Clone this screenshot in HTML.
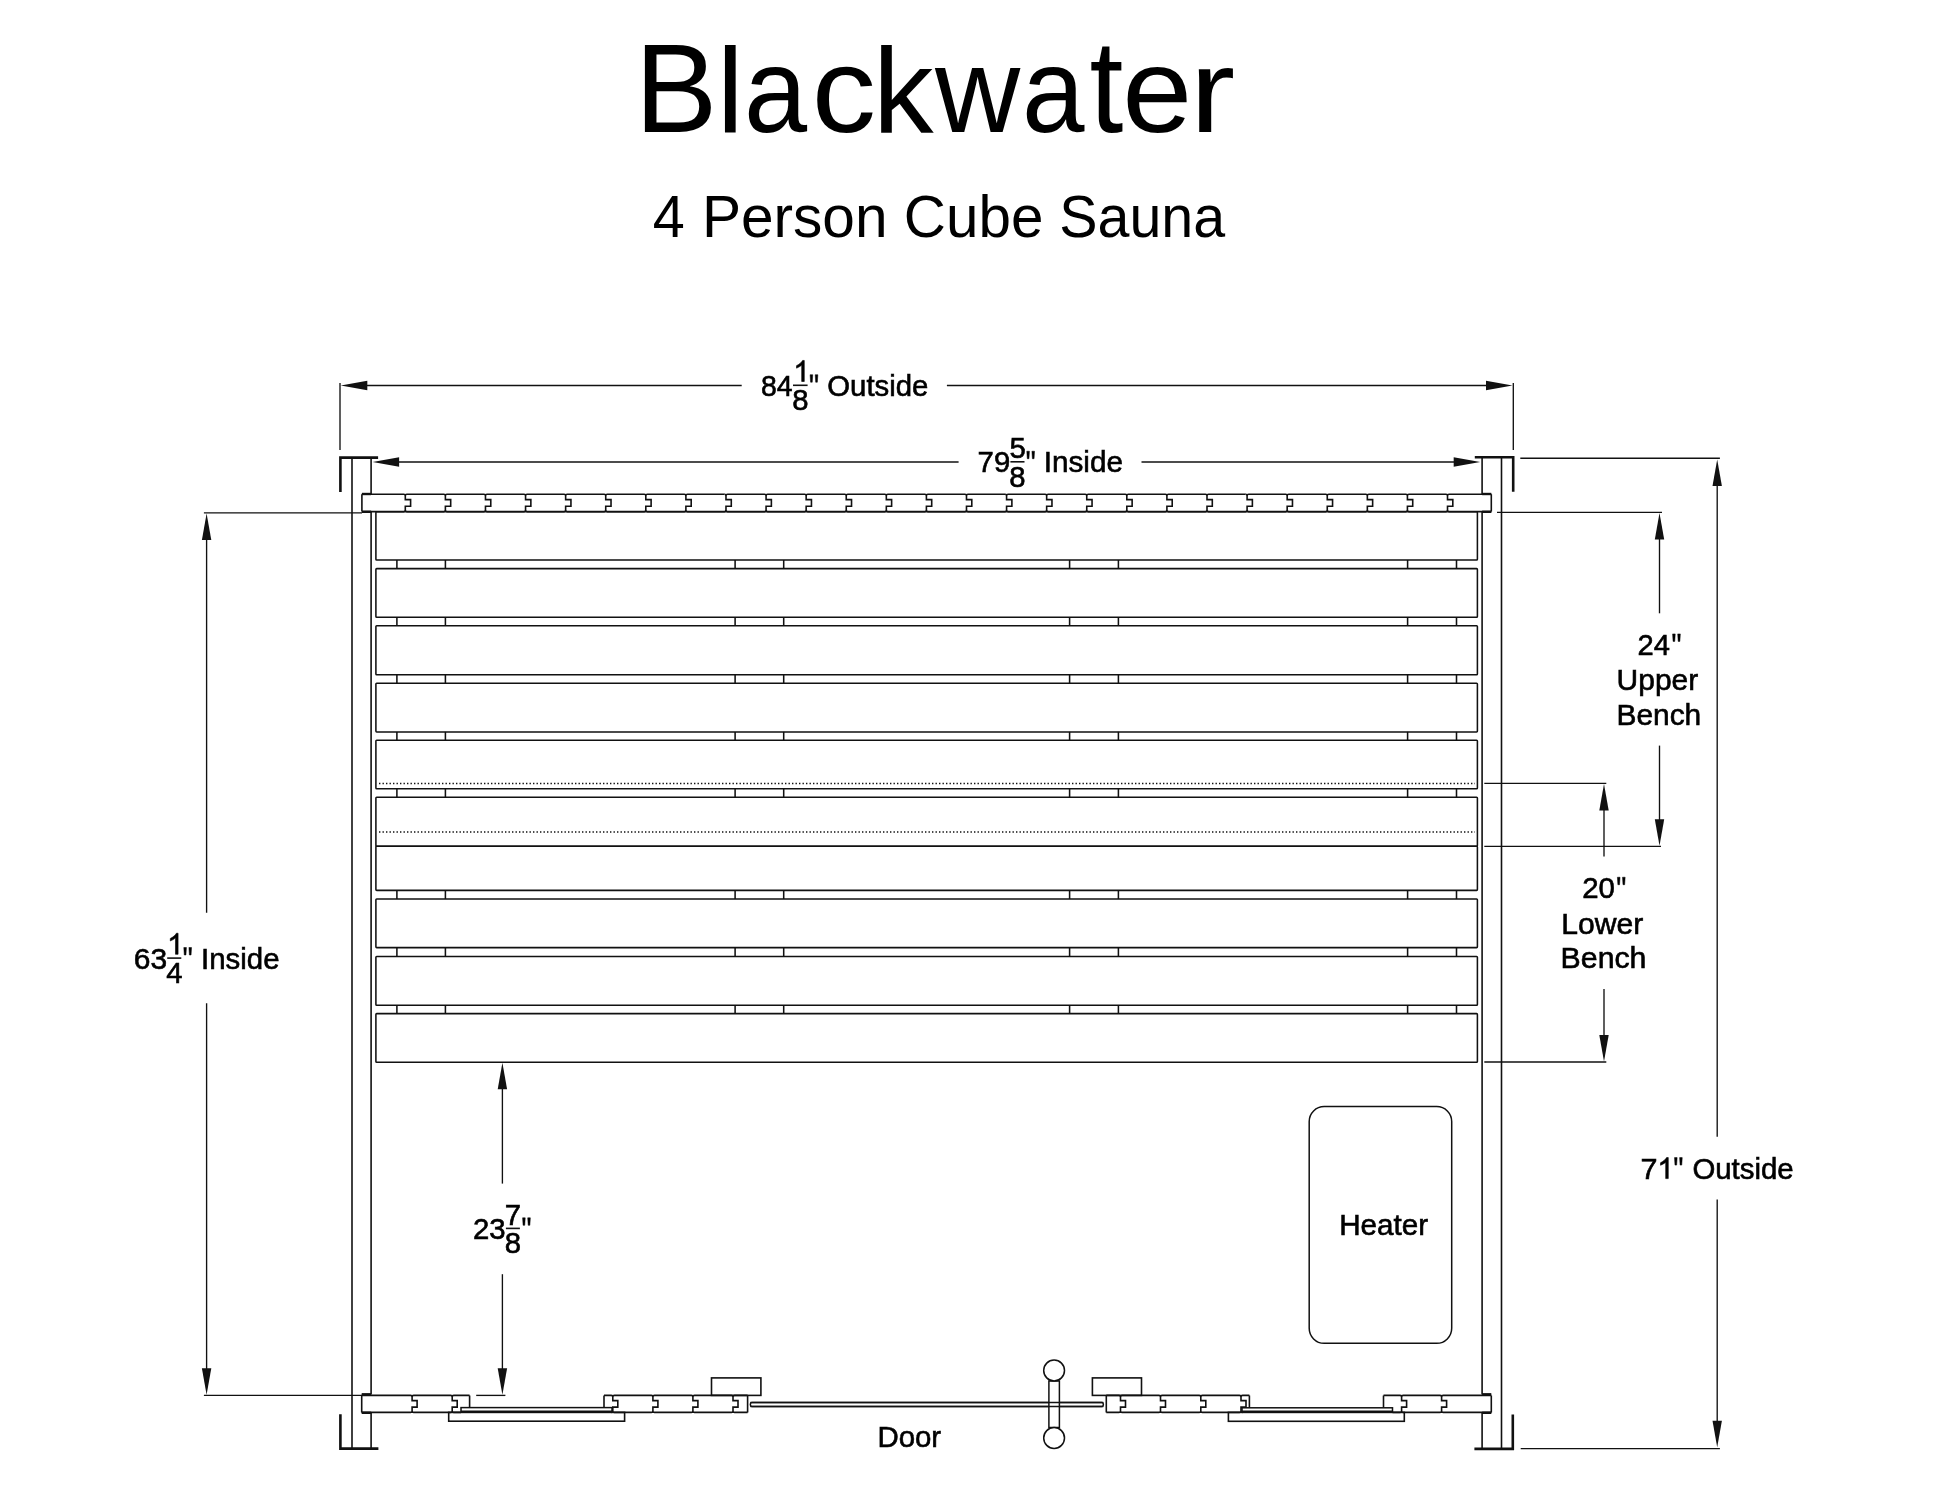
<!DOCTYPE html>
<html><head><meta charset="utf-8"><title>Blackwater 4 Person Cube Sauna</title>
<style>
html,body{margin:0;padding:0;background:#fff;}
body{width:1946px;height:1504px;overflow:hidden;font-family:"Liberation Sans",sans-serif;}
svg{display:block;will-change:transform;}
</style></head><body>
<svg width="1946" height="1504" viewBox="0 0 1946 1504">
<rect x="0" y="0" width="1946" height="1504" fill="#fff"/>
<g fill="#000" font-family="Liberation Sans" stroke="none">
<text transform="translate(634.69 131.80) scale(0.9811 1.0007)" font-size="126.30">B</text>
<text transform="translate(716.80 131.80) scale(0.9639 0.9501)" font-size="126.30">l</text>
<text transform="translate(743.98 131.80) scale(0.8986 0.9520)" font-size="126.30">a</text>
<text transform="translate(811.84 131.80) scale(1.0174 0.9579)" font-size="126.30">c</text>
<text transform="translate(873.03 131.80) scale(0.9594 0.9517)" font-size="126.30">k</text>
<text transform="translate(935.07 131.80) scale(0.9345 0.9501)" font-size="126.30">w</text>
<text transform="translate(1022.03 131.80) scale(0.8894 0.9520)" font-size="126.30">a</text>
<text transform="translate(1089.46 131.80) scale(0.9642 1.0386)" font-size="126.30">t</text>
<text transform="translate(1122.26 131.80) scale(0.9955 0.9520)" font-size="126.30">e</text>
<text transform="translate(1189.74 131.80) scale(1.0800 0.9329)" font-size="126.30">r</text>
<text transform="translate(652.68 236.50) scale(0.9481 0.9800)" font-size="60.70">4</text>
<text transform="translate(701.89 236.50) scale(0.9651 0.9750)" font-size="60.70">Person</text>
<text transform="translate(903.83 236.50) scale(0.9625 0.9750)" font-size="60.70">Cube</text>
<text transform="translate(1059.29 236.50) scale(0.9452 0.9750)" font-size="60.70">Sauna</text>
<g stroke="#000" stroke-width="0.6">
<text transform="translate(760.96 395.70) scale(0.9718 1.0000)" font-size="29.30">84</text>
<path transform="translate(793.32 381.50) scale(0.01436 -0.01436)" d="M763 0L583 0L583 1147C540 1106 483 1064 413 1023C343 982 280 951 223 930L223 1104C324 1151 412 1208 487 1276C562 1344 615 1407 646 1466L763 1466Z" stroke-width="41.8"/>
<text x="792.25" y="410.30" font-size="29.30">8</text>
<line x1="793.00" y1="385.30" x2="807.60" y2="385.30" stroke="#111" stroke-width="1.6"/>
<path transform="translate(808.77 395.70) scale(0.01431 -0.01431)" d="M93 1466L277 1466L243 943L127 943ZM450 1466L634 1466L600 943L484 943Z" stroke-width="34.9"/>
<text transform="translate(827.31 395.70) scale(1.0012 1.0000)" font-size="29.30">Outside</text>
<text transform="translate(977.60 472.20) scale(1.0000 1.0000)" font-size="29.30">79</text>
<text x="1009.38" y="458.00" font-size="29.30">5</text>
<text x="1009.35" y="486.80" font-size="29.30">8</text>
<line x1="1010.40" y1="461.80" x2="1024.50" y2="461.80" stroke="#111" stroke-width="1.6"/>
<path transform="translate(1025.47 472.20) scale(0.01431 -0.01431)" d="M93 1466L277 1466L243 943L127 943ZM450 1466L634 1466L600 943L484 943Z" stroke-width="34.9"/>
<text transform="translate(1043.66 472.20) scale(1.0138 1.0000)" font-size="29.30">Inside</text>
<text transform="translate(133.78 968.50) scale(1.0230 1.0000)" font-size="29.30">63</text>
<path transform="translate(167.12 954.30) scale(0.01436 -0.01436)" d="M763 0L583 0L583 1147C540 1106 483 1064 413 1023C343 982 280 951 223 930L223 1104C324 1151 412 1208 487 1276C562 1344 615 1407 646 1466L763 1466Z" stroke-width="41.8"/>
<text x="166.15" y="983.10" font-size="29.30">4</text>
<line x1="167.20" y1="958.10" x2="181.30" y2="958.10" stroke="#111" stroke-width="1.6"/>
<path transform="translate(182.47 968.50) scale(0.01431 -0.01431)" d="M93 1466L277 1466L243 943L127 943ZM450 1466L634 1466L600 943L484 943Z" stroke-width="34.9"/>
<text transform="translate(200.98 968.50) scale(1.0043 1.0000)" font-size="29.30">Inside</text>
<text transform="translate(472.92 1238.80) scale(1.0024 1.0000)" font-size="29.30">23</text>
<text x="504.74" y="1224.60" font-size="29.30">7</text>
<text x="504.75" y="1253.40" font-size="29.30">8</text>
<line x1="505.90" y1="1228.40" x2="519.90" y2="1228.40" stroke="#111" stroke-width="1.6"/>
<path transform="translate(521.27 1238.80) scale(0.01431 -0.01431)" d="M93 1466L277 1466L243 943L127 943ZM450 1466L634 1466L600 943L484 943Z" stroke-width="34.9"/>
<text transform="translate(1637.43 654.90) scale(0.9948 1.0000)" font-size="29.30">24</text>
<path transform="translate(1671.27 654.90) scale(0.01431 -0.01431)" d="M93 1466L277 1466L243 943L127 943ZM450 1466L634 1466L600 943L484 943Z" stroke-width="34.9"/>
<text transform="translate(1616.59 689.80) scale(1.0226 1.0000)" font-size="29.30">Upper</text>
<text transform="translate(1616.45 724.70) scale(1.0207 1.0000)" font-size="29.30">Bench</text>
<text transform="translate(1582.22 898.20) scale(1.0043 1.0000)" font-size="29.30">20</text>
<path transform="translate(1616.07 898.20) scale(0.01431 -0.01431)" d="M93 1466L277 1466L243 943L127 943ZM450 1466L634 1466L600 943L484 943Z" stroke-width="34.9"/>
<text transform="translate(1561.23 934.00) scale(1.0284 1.0000)" font-size="29.30">Lower</text>
<text transform="translate(1560.62 968.40) scale(1.0334 1.0000)" font-size="29.30">Bench</text>
<text transform="translate(1640.43 1178.60) scale(1.0436 1.0000)" font-size="29.30">7</text>
<path transform="translate(1657.32 1178.60) scale(0.01436 -0.01436)" d="M763 0L583 0L583 1147C540 1106 483 1064 413 1023C343 982 280 951 223 930L223 1104C324 1151 412 1208 487 1276C562 1344 615 1407 646 1466L763 1466Z" stroke-width="41.8"/>
<path transform="translate(1673.17 1178.60) scale(0.01431 -0.01431)" d="M93 1466L277 1466L243 943L127 943ZM450 1466L634 1466L600 943L484 943Z" stroke-width="34.9"/>
<text transform="translate(1692.41 1178.60) scale(1.0032 1.0000)" font-size="29.30">Outside</text>
<text transform="translate(1339.17 1235.10) scale(1.0111 1.0000)" font-size="29.30">Heater</text>
<text transform="translate(877.49 1447.10) scale(1.0030 1.0000)" font-size="29.30">Door</text>
</g>
</g>
<g stroke="#111" fill="none" stroke-linecap="butt">
<line x1="340.00" y1="383.00" x2="340.00" y2="450.00" stroke-width="1.35"/>
<line x1="1513.30" y1="383.00" x2="1513.30" y2="450.00" stroke-width="1.35"/>
<line x1="360.00" y1="385.50" x2="741.70" y2="385.50" stroke-width="1.35"/>
<line x1="946.90" y1="385.50" x2="1495.00" y2="385.50" stroke-width="1.35"/>
<polygon points="340.80,385.50 367.30,380.80 367.30,390.20" fill="#111" stroke="none"/>
<polygon points="1512.50,385.50 1486.00,380.80 1486.00,390.20" fill="#111" stroke="none"/>
<line x1="390.00" y1="462.00" x2="958.60" y2="462.00" stroke-width="1.35"/>
<line x1="1141.50" y1="462.00" x2="1465.00" y2="462.00" stroke-width="1.35"/>
<polygon points="372.60,462.00 399.10,457.30 399.10,466.70" fill="#111" stroke="none"/>
<polygon points="1480.20,462.00 1453.70,457.30 1453.70,466.70" fill="#111" stroke="none"/>
<line x1="203.90" y1="512.80" x2="362.00" y2="512.80" stroke-width="1.35"/>
<line x1="203.90" y1="1395.40" x2="362.00" y2="1395.40" stroke-width="1.35"/>
<line x1="206.60" y1="530.00" x2="206.60" y2="912.70" stroke-width="1.35"/>
<line x1="206.60" y1="1003.30" x2="206.60" y2="1380.00" stroke-width="1.35"/>
<polygon points="206.60,513.50 201.90,540.00 211.30,540.00" fill="#111" stroke="none"/>
<polygon points="206.60,1394.70 201.90,1368.20 211.30,1368.20" fill="#111" stroke="none"/>
<line x1="476.20" y1="1395.40" x2="505.40" y2="1395.40" stroke-width="1.35"/>
<line x1="502.40" y1="1080.00" x2="502.40" y2="1183.60" stroke-width="1.35"/>
<line x1="502.40" y1="1274.20" x2="502.40" y2="1380.00" stroke-width="1.35"/>
<polygon points="502.40,1062.80 497.70,1089.30 507.10,1089.30" fill="#111" stroke="none"/>
<polygon points="502.40,1394.80 497.70,1368.30 507.10,1368.30" fill="#111" stroke="none"/>
<line x1="1497.00" y1="512.30" x2="1662.00" y2="512.30" stroke-width="1.35"/>
<line x1="1484.30" y1="846.30" x2="1661.00" y2="846.30" stroke-width="1.35"/>
<line x1="1659.50" y1="530.00" x2="1659.50" y2="613.30" stroke-width="1.35"/>
<line x1="1659.50" y1="745.60" x2="1659.50" y2="830.00" stroke-width="1.35"/>
<polygon points="1659.50,513.00 1654.80,539.50 1664.20,539.50" fill="#111" stroke="none"/>
<polygon points="1659.50,845.80 1654.80,819.30 1664.20,819.30" fill="#111" stroke="none"/>
<line x1="1484.30" y1="783.40" x2="1606.30" y2="783.40" stroke-width="1.35"/>
<line x1="1484.30" y1="1062.00" x2="1606.30" y2="1062.00" stroke-width="1.35"/>
<line x1="1604.00" y1="800.00" x2="1604.00" y2="856.60" stroke-width="1.35"/>
<line x1="1604.00" y1="989.00" x2="1604.00" y2="1045.00" stroke-width="1.35"/>
<polygon points="1604.00,784.00 1599.30,810.50 1608.70,810.50" fill="#111" stroke="none"/>
<polygon points="1604.00,1061.50 1599.30,1035.00 1608.70,1035.00" fill="#111" stroke="none"/>
<line x1="1520.30" y1="458.20" x2="1719.90" y2="458.20" stroke-width="1.35"/>
<line x1="1520.70" y1="1448.60" x2="1719.90" y2="1448.60" stroke-width="1.35"/>
<line x1="1717.20" y1="475.00" x2="1717.20" y2="1136.80" stroke-width="1.35"/>
<line x1="1717.20" y1="1199.60" x2="1717.20" y2="1430.00" stroke-width="1.35"/>
<polygon points="1717.20,459.50 1712.50,486.00 1721.90,486.00" fill="#111" stroke="none"/>
<polygon points="1717.20,1447.30 1712.50,1420.80 1721.90,1420.80" fill="#111" stroke="none"/>
<path d="M340.4 492.1 L340.4 457.6 L378.1 457.6" stroke-width="2.60"/>
<path d="M1474.8 457.3 L1513.2 457.3 L1513.2 491.8" stroke-width="2.60"/>
<path d="M340.4 1414.3 L340.4 1448.6 L378.4 1448.6" stroke-width="2.60"/>
<path d="M1474.4 1448.9 L1512.8 1448.9 L1512.8 1414.5" stroke-width="2.60"/>
<line x1="352.00" y1="457.60" x2="352.00" y2="1448.60" stroke-width="1.60"/>
<line x1="1501.50" y1="457.30" x2="1501.50" y2="1448.90" stroke-width="1.60"/>
<line x1="371.10" y1="457.60" x2="371.10" y2="494.30" stroke-width="1.60"/>
<line x1="371.10" y1="512.00" x2="371.10" y2="1394.60" stroke-width="1.60"/>
<line x1="371.10" y1="1413.00" x2="371.10" y2="1448.60" stroke-width="1.60"/>
<line x1="1482.10" y1="457.30" x2="1482.10" y2="494.30" stroke-width="1.60"/>
<line x1="1482.10" y1="512.00" x2="1482.10" y2="1394.60" stroke-width="1.60"/>
<line x1="1482.10" y1="1413.00" x2="1482.10" y2="1448.90" stroke-width="1.60"/>
<path d="M361.90 494.30 L403.80 494.30 M406.80 494.30 L443.88 494.30 M446.88 494.30 L483.97 494.30 M486.97 494.30 L524.06 494.30 M527.06 494.30 L564.14 494.30 M567.14 494.30 L604.23 494.30 M607.23 494.30 L644.31 494.30 M647.31 494.30 L684.39 494.30 M687.39 494.30 L724.48 494.30 M727.48 494.30 L764.57 494.30 M767.57 494.30 L804.65 494.30 M807.65 494.30 L844.74 494.30 M847.74 494.30 L884.82 494.30 M887.82 494.30 L924.90 494.30 M927.90 494.30 L964.99 494.30 M967.99 494.30 L1005.08 494.30 M1008.08 494.30 L1045.16 494.30 M1048.16 494.30 L1085.25 494.30 M1088.25 494.30 L1125.33 494.30 M1128.33 494.30 L1165.41 494.30 M1168.41 494.30 L1205.50 494.30 M1208.50 494.30 L1245.59 494.30 M1248.59 494.30 L1285.67 494.30 M1288.67 494.30 L1325.76 494.30 M1328.76 494.30 L1365.84 494.30 M1368.84 494.30 L1405.92 494.30 M1408.92 494.30 L1446.01 494.30 M1449.01 494.30 L1491.30 494.30 M361.90 511.60 L403.80 511.60 M406.80 511.60 L443.88 511.60 M446.88 511.60 L483.97 511.60 M486.97 511.60 L524.06 511.60 M527.06 511.60 L564.14 511.60 M567.14 511.60 L604.23 511.60 M607.23 511.60 L644.31 511.60 M647.31 511.60 L684.39 511.60 M687.39 511.60 L724.48 511.60 M727.48 511.60 L764.57 511.60 M767.57 511.60 L804.65 511.60 M807.65 511.60 L844.74 511.60 M847.74 511.60 L884.82 511.60 M887.82 511.60 L924.90 511.60 M927.90 511.60 L964.99 511.60 M967.99 511.60 L1005.08 511.60 M1008.08 511.60 L1045.16 511.60 M1048.16 511.60 L1085.25 511.60 M1088.25 511.60 L1125.33 511.60 M1128.33 511.60 L1165.41 511.60 M1168.41 511.60 L1205.50 511.60 M1208.50 511.60 L1245.59 511.60 M1248.59 511.60 L1285.67 511.60 M1288.67 511.60 L1325.76 511.60 M1328.76 511.60 L1365.84 511.60 M1368.84 511.60 L1405.92 511.60 M1408.92 511.60 L1446.01 511.60 M1449.01 511.60 L1491.30 511.60 M361.90 494.30 L361.90 511.60 M1491.30 494.30 L1491.30 511.60 M403.80 494.30 Q405.30 494.30 405.30 495.80 Q405.30 494.30 406.80 494.30 M405.30 495.80 L405.30 499.66 L410.60 499.66 L410.60 506.24 L405.30 506.24 L405.30 510.10 M403.80 511.60 Q405.30 511.60 405.30 510.10 Q405.30 511.60 406.80 511.60 M443.88 494.30 Q445.38 494.30 445.38 495.80 Q445.38 494.30 446.88 494.30 M445.38 495.80 L445.38 499.66 L450.69 499.66 L450.69 506.24 L445.38 506.24 L445.38 510.10 M443.88 511.60 Q445.38 511.60 445.38 510.10 Q445.38 511.60 446.88 511.60 M483.97 494.30 Q485.47 494.30 485.47 495.80 Q485.47 494.30 486.97 494.30 M485.47 495.80 L485.47 499.66 L490.77 499.66 L490.77 506.24 L485.47 506.24 L485.47 510.10 M483.97 511.60 Q485.47 511.60 485.47 510.10 Q485.47 511.60 486.97 511.60 M524.06 494.30 Q525.56 494.30 525.56 495.80 Q525.56 494.30 527.06 494.30 M525.56 495.80 L525.56 499.66 L530.86 499.66 L530.86 506.24 L525.56 506.24 L525.56 510.10 M524.06 511.60 Q525.56 511.60 525.56 510.10 Q525.56 511.60 527.06 511.60 M564.14 494.30 Q565.64 494.30 565.64 495.80 Q565.64 494.30 567.14 494.30 M565.64 495.80 L565.64 499.66 L570.94 499.66 L570.94 506.24 L565.64 506.24 L565.64 510.10 M564.14 511.60 Q565.64 511.60 565.64 510.10 Q565.64 511.60 567.14 511.60 M604.23 494.30 Q605.73 494.30 605.73 495.80 Q605.73 494.30 607.23 494.30 M605.73 495.80 L605.73 499.66 L611.02 499.66 L611.02 506.24 L605.73 506.24 L605.73 510.10 M604.23 511.60 Q605.73 511.60 605.73 510.10 Q605.73 511.60 607.23 511.60 M644.31 494.30 Q645.81 494.30 645.81 495.80 Q645.81 494.30 647.31 494.30 M645.81 495.80 L645.81 499.66 L651.11 499.66 L651.11 506.24 L645.81 506.24 L645.81 510.10 M644.31 511.60 Q645.81 511.60 645.81 510.10 Q645.81 511.60 647.31 511.60 M684.39 494.30 Q685.89 494.30 685.89 495.80 Q685.89 494.30 687.39 494.30 M685.89 495.80 L685.89 499.66 L691.19 499.66 L691.19 506.24 L685.89 506.24 L685.89 510.10 M684.39 511.60 Q685.89 511.60 685.89 510.10 Q685.89 511.60 687.39 511.60 M724.48 494.30 Q725.98 494.30 725.98 495.80 Q725.98 494.30 727.48 494.30 M725.98 495.80 L725.98 499.66 L731.28 499.66 L731.28 506.24 L725.98 506.24 L725.98 510.10 M724.48 511.60 Q725.98 511.60 725.98 510.10 Q725.98 511.60 727.48 511.60 M764.57 494.30 Q766.07 494.30 766.07 495.80 Q766.07 494.30 767.57 494.30 M766.07 495.80 L766.07 499.66 L771.37 499.66 L771.37 506.24 L766.07 506.24 L766.07 510.10 M764.57 511.60 Q766.07 511.60 766.07 510.10 Q766.07 511.60 767.57 511.60 M804.65 494.30 Q806.15 494.30 806.15 495.80 Q806.15 494.30 807.65 494.30 M806.15 495.80 L806.15 499.66 L811.45 499.66 L811.45 506.24 L806.15 506.24 L806.15 510.10 M804.65 511.60 Q806.15 511.60 806.15 510.10 Q806.15 511.60 807.65 511.60 M844.74 494.30 Q846.24 494.30 846.24 495.80 Q846.24 494.30 847.74 494.30 M846.24 495.80 L846.24 499.66 L851.53 499.66 L851.53 506.24 L846.24 506.24 L846.24 510.10 M844.74 511.60 Q846.24 511.60 846.24 510.10 Q846.24 511.60 847.74 511.60 M884.82 494.30 Q886.32 494.30 886.32 495.80 Q886.32 494.30 887.82 494.30 M886.32 495.80 L886.32 499.66 L891.62 499.66 L891.62 506.24 L886.32 506.24 L886.32 510.10 M884.82 511.60 Q886.32 511.60 886.32 510.10 Q886.32 511.60 887.82 511.60 M924.90 494.30 Q926.40 494.30 926.40 495.80 Q926.40 494.30 927.90 494.30 M926.40 495.80 L926.40 499.66 L931.70 499.66 L931.70 506.24 L926.40 506.24 L926.40 510.10 M924.90 511.60 Q926.40 511.60 926.40 510.10 Q926.40 511.60 927.90 511.60 M964.99 494.30 Q966.49 494.30 966.49 495.80 Q966.49 494.30 967.99 494.30 M966.49 495.80 L966.49 499.66 L971.79 499.66 L971.79 506.24 L966.49 506.24 L966.49 510.10 M964.99 511.60 Q966.49 511.60 966.49 510.10 Q966.49 511.60 967.99 511.60 M1005.08 494.30 Q1006.58 494.30 1006.58 495.80 Q1006.58 494.30 1008.08 494.30 M1006.58 495.80 L1006.58 499.66 L1011.88 499.66 L1011.88 506.24 L1006.58 506.24 L1006.58 510.10 M1005.08 511.60 Q1006.58 511.60 1006.58 510.10 Q1006.58 511.60 1008.08 511.60 M1045.16 494.30 Q1046.66 494.30 1046.66 495.80 Q1046.66 494.30 1048.16 494.30 M1046.66 495.80 L1046.66 499.66 L1051.96 499.66 L1051.96 506.24 L1046.66 506.24 L1046.66 510.10 M1045.16 511.60 Q1046.66 511.60 1046.66 510.10 Q1046.66 511.60 1048.16 511.60 M1085.25 494.30 Q1086.75 494.30 1086.75 495.80 Q1086.75 494.30 1088.25 494.30 M1086.75 495.80 L1086.75 499.66 L1092.05 499.66 L1092.05 506.24 L1086.75 506.24 L1086.75 510.10 M1085.25 511.60 Q1086.75 511.60 1086.75 510.10 Q1086.75 511.60 1088.25 511.60 M1125.33 494.30 Q1126.83 494.30 1126.83 495.80 Q1126.83 494.30 1128.33 494.30 M1126.83 495.80 L1126.83 499.66 L1132.13 499.66 L1132.13 506.24 L1126.83 506.24 L1126.83 510.10 M1125.33 511.60 Q1126.83 511.60 1126.83 510.10 Q1126.83 511.60 1128.33 511.60 M1165.41 494.30 Q1166.91 494.30 1166.91 495.80 Q1166.91 494.30 1168.41 494.30 M1166.91 495.80 L1166.91 499.66 L1172.21 499.66 L1172.21 506.24 L1166.91 506.24 L1166.91 510.10 M1165.41 511.60 Q1166.91 511.60 1166.91 510.10 Q1166.91 511.60 1168.41 511.60 M1205.50 494.30 Q1207.00 494.30 1207.00 495.80 Q1207.00 494.30 1208.50 494.30 M1207.00 495.80 L1207.00 499.66 L1212.30 499.66 L1212.30 506.24 L1207.00 506.24 L1207.00 510.10 M1205.50 511.60 Q1207.00 511.60 1207.00 510.10 Q1207.00 511.60 1208.50 511.60 M1245.59 494.30 Q1247.09 494.30 1247.09 495.80 Q1247.09 494.30 1248.59 494.30 M1247.09 495.80 L1247.09 499.66 L1252.38 499.66 L1252.38 506.24 L1247.09 506.24 L1247.09 510.10 M1245.59 511.60 Q1247.09 511.60 1247.09 510.10 Q1247.09 511.60 1248.59 511.60 M1285.67 494.30 Q1287.17 494.30 1287.17 495.80 Q1287.17 494.30 1288.67 494.30 M1287.17 495.80 L1287.17 499.66 L1292.47 499.66 L1292.47 506.24 L1287.17 506.24 L1287.17 510.10 M1285.67 511.60 Q1287.17 511.60 1287.17 510.10 Q1287.17 511.60 1288.67 511.60 M1325.76 494.30 Q1327.26 494.30 1327.26 495.80 Q1327.26 494.30 1328.76 494.30 M1327.26 495.80 L1327.26 499.66 L1332.56 499.66 L1332.56 506.24 L1327.26 506.24 L1327.26 510.10 M1325.76 511.60 Q1327.26 511.60 1327.26 510.10 Q1327.26 511.60 1328.76 511.60 M1365.84 494.30 Q1367.34 494.30 1367.34 495.80 Q1367.34 494.30 1368.84 494.30 M1367.34 495.80 L1367.34 499.66 L1372.64 499.66 L1372.64 506.24 L1367.34 506.24 L1367.34 510.10 M1365.84 511.60 Q1367.34 511.60 1367.34 510.10 Q1367.34 511.60 1368.84 511.60 M1405.92 494.30 Q1407.42 494.30 1407.42 495.80 Q1407.42 494.30 1408.92 494.30 M1407.42 495.80 L1407.42 499.66 L1412.72 499.66 L1412.72 506.24 L1407.42 506.24 L1407.42 510.10 M1405.92 511.60 Q1407.42 511.60 1407.42 510.10 Q1407.42 511.60 1408.92 511.60 M1446.01 494.30 Q1447.51 494.30 1447.51 495.80 Q1447.51 494.30 1449.01 494.30 M1447.51 495.80 L1447.51 499.66 L1452.81 499.66 L1452.81 506.24 L1447.51 506.24 L1447.51 510.10 M1446.01 511.60 Q1447.51 511.60 1447.51 510.10 Q1447.51 511.60 1449.01 511.60 " stroke-width="1.60"/>
<line x1="361.90" y1="494.00" x2="371.10" y2="494.00" stroke-width="2.40"/>
<line x1="1482.10" y1="494.00" x2="1491.30" y2="494.00" stroke-width="2.40"/>
<line x1="361.90" y1="511.80" x2="371.10" y2="511.80" stroke-width="2.40"/>
<line x1="1482.10" y1="511.80" x2="1491.30" y2="511.80" stroke-width="2.40"/>
<rect x="375.90" y="511.70" width="1101.50" height="48.30" rx="0.8" stroke-width="1.55"/>
<rect x="375.90" y="568.60" width="1101.50" height="48.70" rx="0.8" stroke-width="1.55"/>
<rect x="375.90" y="625.80" width="1101.50" height="49.00" rx="0.8" stroke-width="1.55"/>
<rect x="375.90" y="683.20" width="1101.50" height="48.70" rx="0.8" stroke-width="1.55"/>
<rect x="375.90" y="740.20" width="1101.50" height="48.60" rx="0.8" stroke-width="1.55"/>
<rect x="375.90" y="797.30" width="1101.50" height="49.00" rx="0.8" stroke-width="1.55"/>
<rect x="375.90" y="846.30" width="1101.50" height="44.10" rx="0.8" stroke-width="1.55"/>
<rect x="375.90" y="899.00" width="1101.50" height="48.60" rx="0.8" stroke-width="1.55"/>
<rect x="375.90" y="956.40" width="1101.50" height="48.90" rx="0.8" stroke-width="1.55"/>
<rect x="375.90" y="1013.60" width="1101.50" height="48.60" rx="0.8" stroke-width="1.55"/>
<line x1="396.90" y1="560.00" x2="396.90" y2="568.60" stroke-width="1.55"/>
<line x1="445.40" y1="560.00" x2="445.40" y2="568.60" stroke-width="1.55"/>
<line x1="735.10" y1="560.00" x2="735.10" y2="568.60" stroke-width="1.55"/>
<line x1="783.70" y1="560.00" x2="783.70" y2="568.60" stroke-width="1.55"/>
<line x1="1069.60" y1="560.00" x2="1069.60" y2="568.60" stroke-width="1.55"/>
<line x1="1118.40" y1="560.00" x2="1118.40" y2="568.60" stroke-width="1.55"/>
<line x1="1407.60" y1="560.00" x2="1407.60" y2="568.60" stroke-width="1.55"/>
<line x1="1456.50" y1="560.00" x2="1456.50" y2="568.60" stroke-width="1.55"/>
<line x1="396.90" y1="617.30" x2="396.90" y2="625.80" stroke-width="1.55"/>
<line x1="445.40" y1="617.30" x2="445.40" y2="625.80" stroke-width="1.55"/>
<line x1="735.10" y1="617.30" x2="735.10" y2="625.80" stroke-width="1.55"/>
<line x1="783.70" y1="617.30" x2="783.70" y2="625.80" stroke-width="1.55"/>
<line x1="1069.60" y1="617.30" x2="1069.60" y2="625.80" stroke-width="1.55"/>
<line x1="1118.40" y1="617.30" x2="1118.40" y2="625.80" stroke-width="1.55"/>
<line x1="1407.60" y1="617.30" x2="1407.60" y2="625.80" stroke-width="1.55"/>
<line x1="1456.50" y1="617.30" x2="1456.50" y2="625.80" stroke-width="1.55"/>
<line x1="396.90" y1="674.80" x2="396.90" y2="683.20" stroke-width="1.55"/>
<line x1="445.40" y1="674.80" x2="445.40" y2="683.20" stroke-width="1.55"/>
<line x1="735.10" y1="674.80" x2="735.10" y2="683.20" stroke-width="1.55"/>
<line x1="783.70" y1="674.80" x2="783.70" y2="683.20" stroke-width="1.55"/>
<line x1="1069.60" y1="674.80" x2="1069.60" y2="683.20" stroke-width="1.55"/>
<line x1="1118.40" y1="674.80" x2="1118.40" y2="683.20" stroke-width="1.55"/>
<line x1="1407.60" y1="674.80" x2="1407.60" y2="683.20" stroke-width="1.55"/>
<line x1="1456.50" y1="674.80" x2="1456.50" y2="683.20" stroke-width="1.55"/>
<line x1="396.90" y1="731.90" x2="396.90" y2="740.20" stroke-width="1.55"/>
<line x1="445.40" y1="731.90" x2="445.40" y2="740.20" stroke-width="1.55"/>
<line x1="735.10" y1="731.90" x2="735.10" y2="740.20" stroke-width="1.55"/>
<line x1="783.70" y1="731.90" x2="783.70" y2="740.20" stroke-width="1.55"/>
<line x1="1069.60" y1="731.90" x2="1069.60" y2="740.20" stroke-width="1.55"/>
<line x1="1118.40" y1="731.90" x2="1118.40" y2="740.20" stroke-width="1.55"/>
<line x1="1407.60" y1="731.90" x2="1407.60" y2="740.20" stroke-width="1.55"/>
<line x1="1456.50" y1="731.90" x2="1456.50" y2="740.20" stroke-width="1.55"/>
<line x1="396.90" y1="788.80" x2="396.90" y2="797.30" stroke-width="1.55"/>
<line x1="445.40" y1="788.80" x2="445.40" y2="797.30" stroke-width="1.55"/>
<line x1="735.10" y1="788.80" x2="735.10" y2="797.30" stroke-width="1.55"/>
<line x1="783.70" y1="788.80" x2="783.70" y2="797.30" stroke-width="1.55"/>
<line x1="1069.60" y1="788.80" x2="1069.60" y2="797.30" stroke-width="1.55"/>
<line x1="1118.40" y1="788.80" x2="1118.40" y2="797.30" stroke-width="1.55"/>
<line x1="1407.60" y1="788.80" x2="1407.60" y2="797.30" stroke-width="1.55"/>
<line x1="1456.50" y1="788.80" x2="1456.50" y2="797.30" stroke-width="1.55"/>
<line x1="396.90" y1="890.40" x2="396.90" y2="899.00" stroke-width="1.55"/>
<line x1="445.40" y1="890.40" x2="445.40" y2="899.00" stroke-width="1.55"/>
<line x1="735.10" y1="890.40" x2="735.10" y2="899.00" stroke-width="1.55"/>
<line x1="783.70" y1="890.40" x2="783.70" y2="899.00" stroke-width="1.55"/>
<line x1="1069.60" y1="890.40" x2="1069.60" y2="899.00" stroke-width="1.55"/>
<line x1="1118.40" y1="890.40" x2="1118.40" y2="899.00" stroke-width="1.55"/>
<line x1="1407.60" y1="890.40" x2="1407.60" y2="899.00" stroke-width="1.55"/>
<line x1="1456.50" y1="890.40" x2="1456.50" y2="899.00" stroke-width="1.55"/>
<line x1="396.90" y1="947.60" x2="396.90" y2="956.40" stroke-width="1.55"/>
<line x1="445.40" y1="947.60" x2="445.40" y2="956.40" stroke-width="1.55"/>
<line x1="735.10" y1="947.60" x2="735.10" y2="956.40" stroke-width="1.55"/>
<line x1="783.70" y1="947.60" x2="783.70" y2="956.40" stroke-width="1.55"/>
<line x1="1069.60" y1="947.60" x2="1069.60" y2="956.40" stroke-width="1.55"/>
<line x1="1118.40" y1="947.60" x2="1118.40" y2="956.40" stroke-width="1.55"/>
<line x1="1407.60" y1="947.60" x2="1407.60" y2="956.40" stroke-width="1.55"/>
<line x1="1456.50" y1="947.60" x2="1456.50" y2="956.40" stroke-width="1.55"/>
<line x1="396.90" y1="1005.30" x2="396.90" y2="1013.60" stroke-width="1.55"/>
<line x1="445.40" y1="1005.30" x2="445.40" y2="1013.60" stroke-width="1.55"/>
<line x1="735.10" y1="1005.30" x2="735.10" y2="1013.60" stroke-width="1.55"/>
<line x1="783.70" y1="1005.30" x2="783.70" y2="1013.60" stroke-width="1.55"/>
<line x1="1069.60" y1="1005.30" x2="1069.60" y2="1013.60" stroke-width="1.55"/>
<line x1="1118.40" y1="1005.30" x2="1118.40" y2="1013.60" stroke-width="1.55"/>
<line x1="1407.60" y1="1005.30" x2="1407.60" y2="1013.60" stroke-width="1.55"/>
<line x1="1456.50" y1="1005.30" x2="1456.50" y2="1013.60" stroke-width="1.55"/>
<line x1="379.0" y1="783.4" x2="1475.0" y2="783.4" stroke-width="1.5" stroke-dasharray="1.4 2.1"/>
<line x1="379.0" y1="832.0" x2="1475.0" y2="832.0" stroke-width="1.5" stroke-dasharray="1.4 2.1"/>
<rect x="1309.2" y="1106.6" width="142.5" height="236.7" rx="15" stroke-width="1.5"/>
<path d="M361.70 1395.40 L410.60 1395.40 M413.60 1395.40 L450.70 1395.40 M453.70 1395.40 L469.60 1395.40 M361.70 1412.40 L410.60 1412.40 M413.60 1412.40 L450.70 1412.40 M453.70 1412.40 L461.00 1412.40 M361.70 1395.40 L361.70 1412.40 M469.60 1395.40 L469.60 1407.60 M410.60 1395.40 Q412.10 1395.40 412.10 1396.90 Q412.10 1395.40 413.60 1395.40 M412.10 1396.90 L412.10 1400.67 L417.10 1400.67 L417.10 1407.13 L412.10 1407.13 L412.10 1410.90 M410.60 1412.40 Q412.10 1412.40 412.10 1410.90 Q412.10 1412.40 413.60 1412.40 M450.70 1395.40 Q452.20 1395.40 452.20 1396.90 Q452.20 1395.40 453.70 1395.40 M452.20 1396.90 L452.20 1400.67 L457.20 1400.67 L457.20 1407.13 L452.20 1407.13 L452.20 1410.90 M450.70 1412.40 Q452.20 1412.40 452.20 1410.90 Q452.20 1412.40 453.70 1412.40 " stroke-width="1.60"/>
<line x1="361.70" y1="1394.30" x2="371.10" y2="1394.30" stroke-width="2.40"/>
<line x1="361.70" y1="1412.80" x2="371.10" y2="1412.80" stroke-width="2.40"/>
<path d="M604.00 1395.40 L611.30 1395.40 M614.30 1395.40 L651.40 1395.40 M654.40 1395.40 L691.40 1395.40 M694.40 1395.40 L731.50 1395.40 M734.50 1395.40 L747.60 1395.40 M612.00 1412.40 L611.30 1412.40 M614.30 1412.40 L651.40 1412.40 M654.40 1412.40 L691.40 1412.40 M694.40 1412.40 L731.50 1412.40 M734.50 1412.40 L747.60 1412.40 M604.00 1395.40 L604.00 1407.60 M747.60 1395.40 L747.60 1412.40 M611.30 1395.40 Q612.80 1395.40 612.80 1396.90 Q612.80 1395.40 614.30 1395.40 M612.80 1396.90 L612.80 1400.67 L617.80 1400.67 L617.80 1407.13 L612.80 1407.13 L612.80 1410.90 M611.30 1412.40 Q612.80 1412.40 612.80 1410.90 Q612.80 1412.40 614.30 1412.40 M651.40 1395.40 Q652.90 1395.40 652.90 1396.90 Q652.90 1395.40 654.40 1395.40 M652.90 1396.90 L652.90 1400.67 L657.90 1400.67 L657.90 1407.13 L652.90 1407.13 L652.90 1410.90 M651.40 1412.40 Q652.90 1412.40 652.90 1410.90 Q652.90 1412.40 654.40 1412.40 M691.40 1395.40 Q692.90 1395.40 692.90 1396.90 Q692.90 1395.40 694.40 1395.40 M692.90 1396.90 L692.90 1400.67 L697.90 1400.67 L697.90 1407.13 L692.90 1407.13 L692.90 1410.90 M691.40 1412.40 Q692.90 1412.40 692.90 1410.90 Q692.90 1412.40 694.40 1412.40 M731.50 1395.40 Q733.00 1395.40 733.00 1396.90 Q733.00 1395.40 734.50 1395.40 M733.00 1396.90 L733.00 1400.67 L738.00 1400.67 L738.00 1407.13 L733.00 1407.13 L733.00 1410.90 M731.50 1412.40 Q733.00 1412.40 733.00 1410.90 Q733.00 1412.40 734.50 1412.40 " stroke-width="1.60"/>
<path d="M1106.30 1395.40 L1119.00 1395.40 M1122.00 1395.40 L1159.00 1395.40 M1162.00 1395.40 L1199.30 1395.40 M1202.30 1395.40 L1239.50 1395.40 M1242.50 1395.40 L1249.40 1395.40 M1106.30 1412.40 L1119.00 1412.40 M1122.00 1412.40 L1159.00 1412.40 M1162.00 1412.40 L1199.30 1412.40 M1202.30 1412.40 L1239.50 1412.40 M1242.50 1412.40 L1242.00 1412.40 M1106.30 1395.40 L1106.30 1412.40 M1249.40 1395.40 L1249.40 1407.80 M1119.00 1395.40 Q1120.50 1395.40 1120.50 1396.90 Q1120.50 1395.40 1122.00 1395.40 M1120.50 1396.90 L1120.50 1400.67 L1125.50 1400.67 L1125.50 1407.13 L1120.50 1407.13 L1120.50 1410.90 M1119.00 1412.40 Q1120.50 1412.40 1120.50 1410.90 Q1120.50 1412.40 1122.00 1412.40 M1159.00 1395.40 Q1160.50 1395.40 1160.50 1396.90 Q1160.50 1395.40 1162.00 1395.40 M1160.50 1396.90 L1160.50 1400.67 L1165.50 1400.67 L1165.50 1407.13 L1160.50 1407.13 L1160.50 1410.90 M1159.00 1412.40 Q1160.50 1412.40 1160.50 1410.90 Q1160.50 1412.40 1162.00 1412.40 M1199.30 1395.40 Q1200.80 1395.40 1200.80 1396.90 Q1200.80 1395.40 1202.30 1395.40 M1200.80 1396.90 L1200.80 1400.67 L1205.80 1400.67 L1205.80 1407.13 L1200.80 1407.13 L1200.80 1410.90 M1199.30 1412.40 Q1200.80 1412.40 1200.80 1410.90 Q1200.80 1412.40 1202.30 1412.40 M1239.50 1395.40 Q1241.00 1395.40 1241.00 1396.90 Q1241.00 1395.40 1242.50 1395.40 M1241.00 1396.90 L1241.00 1400.67 L1246.00 1400.67 L1246.00 1407.13 L1241.00 1407.13 L1241.00 1410.90 M1239.50 1412.40 Q1241.00 1412.40 1241.00 1410.90 Q1241.00 1412.40 1242.50 1412.40 " stroke-width="1.60"/>
<path d="M1383.50 1395.40 L1400.10 1395.40 M1403.10 1395.40 L1440.10 1395.40 M1443.10 1395.40 L1491.30 1395.40 M1392.50 1412.40 L1400.10 1412.40 M1403.10 1412.40 L1440.10 1412.40 M1443.10 1412.40 L1491.30 1412.40 M1383.50 1395.40 L1383.50 1407.80 M1491.30 1395.40 L1491.30 1412.40 M1400.10 1395.40 Q1401.60 1395.40 1401.60 1396.90 Q1401.60 1395.40 1403.10 1395.40 M1401.60 1396.90 L1401.60 1400.67 L1406.60 1400.67 L1406.60 1407.13 L1401.60 1407.13 L1401.60 1410.90 M1400.10 1412.40 Q1401.60 1412.40 1401.60 1410.90 Q1401.60 1412.40 1403.10 1412.40 M1440.10 1395.40 Q1441.60 1395.40 1441.60 1396.90 Q1441.60 1395.40 1443.10 1395.40 M1441.60 1396.90 L1441.60 1400.67 L1446.60 1400.67 L1446.60 1407.13 L1441.60 1407.13 L1441.60 1410.90 M1440.10 1412.40 Q1441.60 1412.40 1441.60 1410.90 Q1441.60 1412.40 1443.10 1412.40 " stroke-width="1.60"/>
<line x1="1482.10" y1="1394.30" x2="1491.30" y2="1394.30" stroke-width="2.40"/>
<line x1="1482.10" y1="1412.80" x2="1491.30" y2="1412.80" stroke-width="2.40"/>
<rect x="461.0" y="1407.6" width="151.0" height="4.2" stroke-width="1.5"/>
<line x1="461.0" y1="1411.6" x2="612.0" y2="1411.6" stroke-width="2.2"/>
<rect x="1242.0" y="1407.8" width="150.5" height="4.0" stroke-width="1.5"/>
<line x1="1242.0" y1="1411.6" x2="1392.5" y2="1411.6" stroke-width="2.2"/>
<rect x="448.7" y="1412.4" width="175.9" height="8.8" stroke-width="1.6"/>
<rect x="1228.4" y="1412.4" width="175.9" height="8.9" stroke-width="1.6"/>
<rect x="711.5" y="1377.9" width="49.4" height="17.5" stroke-width="1.6"/>
<rect x="1092.4" y="1377.9" width="49.1" height="17.5" stroke-width="1.6"/>
<rect x="750.4" y="1402.4" width="352.9" height="4.2" rx="1.5" stroke-width="1.5"/>
<rect x="1048.9" y="1381.0" width="10.5" height="46.5" stroke-width="1.5" fill="#fff"/>
<line x1="750.40" y1="1402.40" x2="1103.30" y2="1402.40" stroke-width="1.50"/>
<line x1="750.40" y1="1406.60" x2="1103.30" y2="1406.60" stroke-width="1.50"/>
<circle cx="1054.1" cy="1370.5" r="10.4" stroke-width="1.5" fill="#fff"/>
<circle cx="1054.1" cy="1438.0" r="10.4" stroke-width="1.5" fill="#fff"/>
</g>
</svg>
</body></html>
